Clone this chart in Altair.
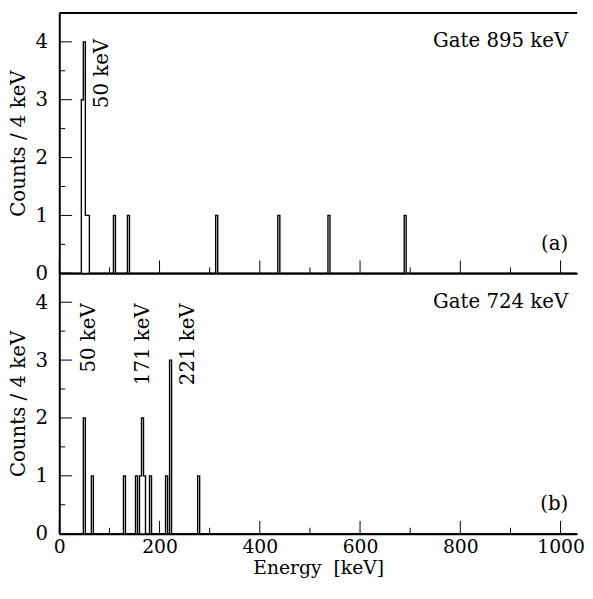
import altair as alt
import pandas as pd

# ---- data (bin start in keV, counts per 4 keV bin) ----
a_bins = [44, 48, 52, 56, 108, 136, 312, 436, 536, 688]
a_counts = [3, 4, 1, 1, 1, 1, 1, 1, 1, 1]

b_bins = [48, 64, 128, 152, 160, 164, 168, 180, 212, 220, 276]
b_counts = [2, 1, 1, 1, 1, 2, 1, 1, 1, 3, 1]

bin_width = 4
x_max = 1033
y_max = 4.5

gate_labels = ["Gate 895 keV", "Gate 724 keV"]
panel_tags = ["(a)", "(b)"]

a_peak_text = ["50 keV"]
a_peak_x = [86]
a_peak_y = [4.05]

b_peak_text = ["50 keV", "171 keV", "221 keV"]
b_peak_x = [59, 167, 256]
b_peak_y = [3.98, 3.98, 3.98]

x_major = [0, 200, 400, 600, 800, 1000]
x_minor = [100, 300, 500, 700, 900]
y_major = [0, 1, 2, 3, 4]
y_minor = [0.5, 1.5, 2.5, 3.5]

W = 525
H = 264
FONT = "DejaVu Serif"
FS = 20
FSX = 19


def hist_df(bins, counts):
    d = dict(zip(bins, counts))
    edges = list(range(0, 1032 + bin_width, bin_width))
    return pd.DataFrame({"E": edges, "C": [d.get(e, 0) for e in edges]})


def panel(bins, counts, gate, tag, ptext, px, py, bottom):
    xs = alt.Scale(domain=[0, x_max], nice=False, zero=False)
    ys = alt.Scale(domain=[0, y_max], nice=False, zero=False)
    common = dict(ticks=False, grid=False, domainWidth=2, domainColor="black",
                  labelFont=FONT, titleFont=FONT, labelColor="black", titleColor="black",
                  titleFontWeight="normal", format="d")
    if bottom:
        xaxis = alt.Axis(values=x_major, labelPadding=4, title="Energy\u00a0 [keV]",
                         labelFontSize=FSX, titleFontSize=FSX,
                         titlePadding=2, labelFlush=False, labelOverlap=False, **common)
    else:
        xaxis = alt.Axis(values=x_major, labels=False, title=None, **common)
    yaxis = alt.Axis(values=y_major, labelPadding=12, title="Counts / 4 keV",
                     labelFontSize=FS, titleFontSize=FS, titlePadding=7, **common)

    hist = alt.Chart(hist_df(bins, counts)).mark_line(
        interpolate="step-after", color="black", strokeWidth=1.4
    ).encode(
        x=alt.X("E:Q", scale=xs, axis=xaxis),
        y=alt.Y("C:Q", scale=ys, axis=yaxis),
    )

    xmaj = alt.Chart(pd.DataFrame({"E": x_major})).mark_rule(color="black", strokeWidth=1).encode(
        x=alt.X("E:Q", scale=xs), y=alt.value(H), y2=alt.value(H - 13))
    xmin = alt.Chart(pd.DataFrame({"E": x_minor})).mark_rule(color="black", strokeWidth=1).encode(
        x=alt.X("E:Q", scale=xs), y=alt.value(H), y2=alt.value(H - 6))
    ymaj = alt.Chart(pd.DataFrame({"C": y_major})).mark_rule(color="black", strokeWidth=1).encode(
        y=alt.Y("C:Q", scale=ys), x=alt.value(0), x2=alt.value(13))
    ymin = alt.Chart(pd.DataFrame({"C": y_minor})).mark_rule(color="black", strokeWidth=1).encode(
        y=alt.Y("C:Q", scale=ys), x=alt.value(0), x2=alt.value(6))

    gate_t = alt.Chart(pd.DataFrame({"t": [gate]})).mark_text(
        align="right", baseline="alphabetic", font=FONT, fontSize=FS, color="black"
    ).encode(x=alt.value(W - 9), y=alt.value(35), text="t:N")
    tag_t = alt.Chart(pd.DataFrame({"t": [tag]})).mark_text(
        align="right", baseline="alphabetic", font=FONT, fontSize=FS, color="black"
    ).encode(x=alt.value(W - 9), y=alt.value(H - 24), text="t:N")

    peaks = alt.Chart(pd.DataFrame({"t": ptext, "E": px, "C": py})).mark_text(
        align="right", baseline="middle", angle=270, font=FONT, fontSize=FS, color="black"
    ).encode(
        x=alt.X("E:Q", scale=xs),
        y=alt.Y("C:Q", scale=ys),
        text="t:N",
    )

    layers = [hist, xmaj, xmin, ymaj, ymin, gate_t, tag_t, peaks]
    if not bottom:
        border = alt.Chart(pd.DataFrame({"a": [0]})).mark_rule(color="black", strokeWidth=2).encode(
            x=alt.value(0), x2=alt.value(W), y=alt.value(0))
        layers.append(border)
    return alt.layer(*layers).properties(width=W, height=H)


top = panel(a_bins, a_counts, gate_labels[0], panel_tags[0], a_peak_text, a_peak_x, a_peak_y, False)
bot = panel(b_bins, b_counts, gate_labels[1], panel_tags[1], b_peak_text, b_peak_x, b_peak_y, True)

chart = alt.vconcat(top, bot, spacing=0, bounds="flush").properties(
    padding={"left": 0, "top": 0, "right": 0, "bottom": 0},
    background="white",
).configure_view(stroke=None)

chart.save("out.html", embed_options={"renderer": "svg", "actions": False})
